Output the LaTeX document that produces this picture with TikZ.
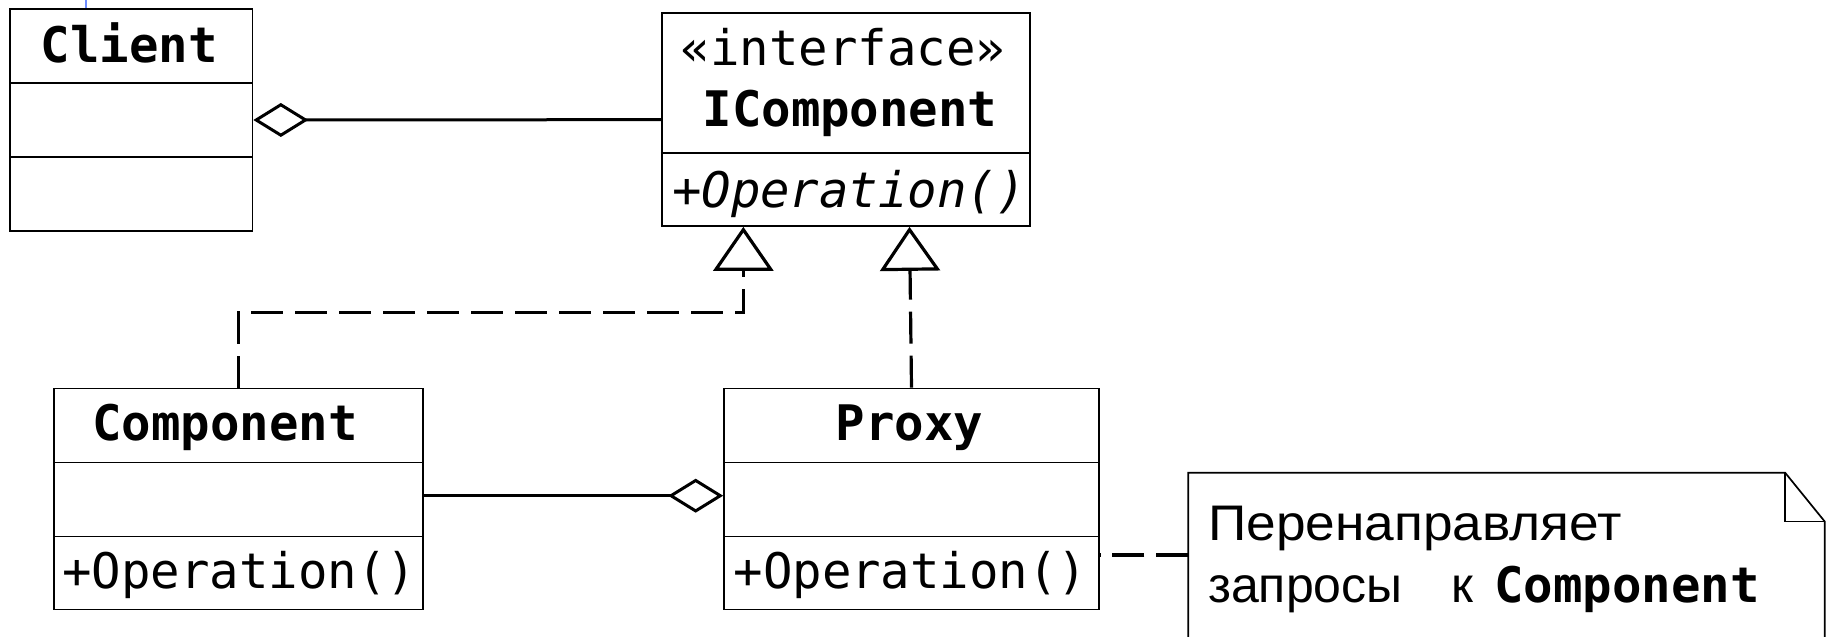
\documentclass[tikz,border=0pt]{standalone}
\usepackage{fontspec}
\usetikzlibrary{arrows.meta}
\newfontfamily\umlfont{DejaVu Sans Mono}
\newfontfamily\notefont{Liberation Sans}
\newfontfamily\notefontwide[FakeStretch=1.065]{Liberation Sans}
\begin{document}
\begin{tikzpicture}[x=1pt,y=-1pt,
  umlbox/.style={draw, line width=1.7pt, inner sep=0pt},
  divider/.style={line width=1.7pt},
  umltext/.style={inner sep=0pt, anchor=base, font=\umlfont\fontsize{49pt}{59pt}\selectfont},
  notetext/.style={inner sep=0pt, anchor=base west, font=\notefont\fontsize{50pt}{60pt}\selectfont},
  aggr/.style={line width=3pt, -{Diamond[open, length=55pt, width=34pt]}},
  realiz/.style={line width=3.2pt, dash pattern=on 32pt off 12pt, -{Triangle[open, length=44pt, width=60pt]}},
  notelink/.style={line width=3.2pt, dash pattern=on 32pt off 12pt},
  noteline/.style={line width=1.7pt}]
\fill[white] (0,0) rectangle (1831,637);
\clip (0,0) rectangle (1831,637);

% Client
\node[umlbox, minimum width=242.5pt, minimum height=222pt] (client) at (131.25,120) {};
\draw[divider] (client.west |- 0,83) -- (client.east |- 0,83);
\draw[divider] (client.west |- 0,157) -- (client.east |- 0,157);
\node[umltext] (clientname) at (129.5,62.7) {\bfseries Client};

% IComponent
\node[umlbox, minimum width=368.3pt, minimum height=212.7pt] (ifc) at (845.85,119.65) {};
\draw[divider] (ifc.west |- 0,152.7) -- (ifc.east |- 0,152.7);
\node[umltext] (stereo) at (843,65) {«interface»};
\node[umltext] (ifcname) at (850,126.7) {\bfseries IComponent};
\node[umltext] (ifcop) at (849,207) {\itshape +Operation()};

% Component
\node[umlbox, minimum width=369pt, minimum height=221pt] (comp) at (238.5,499) {};
\draw[divider] (comp.west |- 0,462.4) -- (comp.east |- 0,462.4);
\draw[divider] (comp.west |- 0,536.5) -- (comp.east |- 0,536.5);
\node[umltext] (compname) at (224.8,440.7) {\bfseries Component};
\node[umltext] (compop) at (239.5,588.5) {+Operation()};

% Proxy
\node[umlbox, minimum width=375pt, minimum height=221pt] (proxy) at (911.5,499) {};
\draw[divider] (proxy.west |- 0,462.4) -- (proxy.east |- 0,462.4);
\draw[divider] (proxy.west |- 0,536.5) -- (proxy.east |- 0,536.5);
\node[umltext] (proxyname) at (909.6,440.7) {\bfseries Proxy};
\node[umltext] (proxyop) at (910.5,588.5) {+Operation()};

% Note
\node[minimum width=636pt, minimum height=227pt, inner sep=0pt] (note) at (1506.5,586.5) {};
\draw[noteline] (note.south west) -- (note.north west) -- ([xshift=-39.5pt]note.north east)
  -- ([yshift=-48.7pt]note.north east) -- (note.south east);
\draw[noteline] ([xshift=-39.5pt]note.north east) |- ([yshift=-48.7pt]note.north east);
\node[notetext, font=\notefontwide\fontsize{50pt}{60pt}\selectfont] (noteline1) at (1208,540) {Перенаправляет};
\node[notetext] (noteline2) at (1208,602) {запросы\hspace{0.98em}к\hspace{0.42em}{\umlfont\fontsize{49pt}{59pt}\selectfont\bfseries Component}};

% Connectors
\draw[aggr] (ifc.west) -- (client.east);
\draw[aggr] ([yshift=3.3pt]comp.east) -- ([yshift=3.3pt]proxy.west);
\draw[realiz] (comp.north) |- ([xshift=-102.5pt,yshift=-85.7pt]ifc.south) -- ([xshift=-102.5pt]ifc.south);
\draw[realiz] (proxy.north) -- ([xshift=-2pt]proxy.north |- ifc.south);
\draw[notelink] ([yshift=-56pt]proxy.east -| note.west) -- ([yshift=-56pt]proxy.east);

% small blue mark at the top
\coordinate (bluetop) at (86,0);
\draw[color={rgb,255:red,110;green,140;blue,255}, line width=1.2pt] (bluetop) -- (bluetop |- client.north);
\end{tikzpicture}
\end{document}
